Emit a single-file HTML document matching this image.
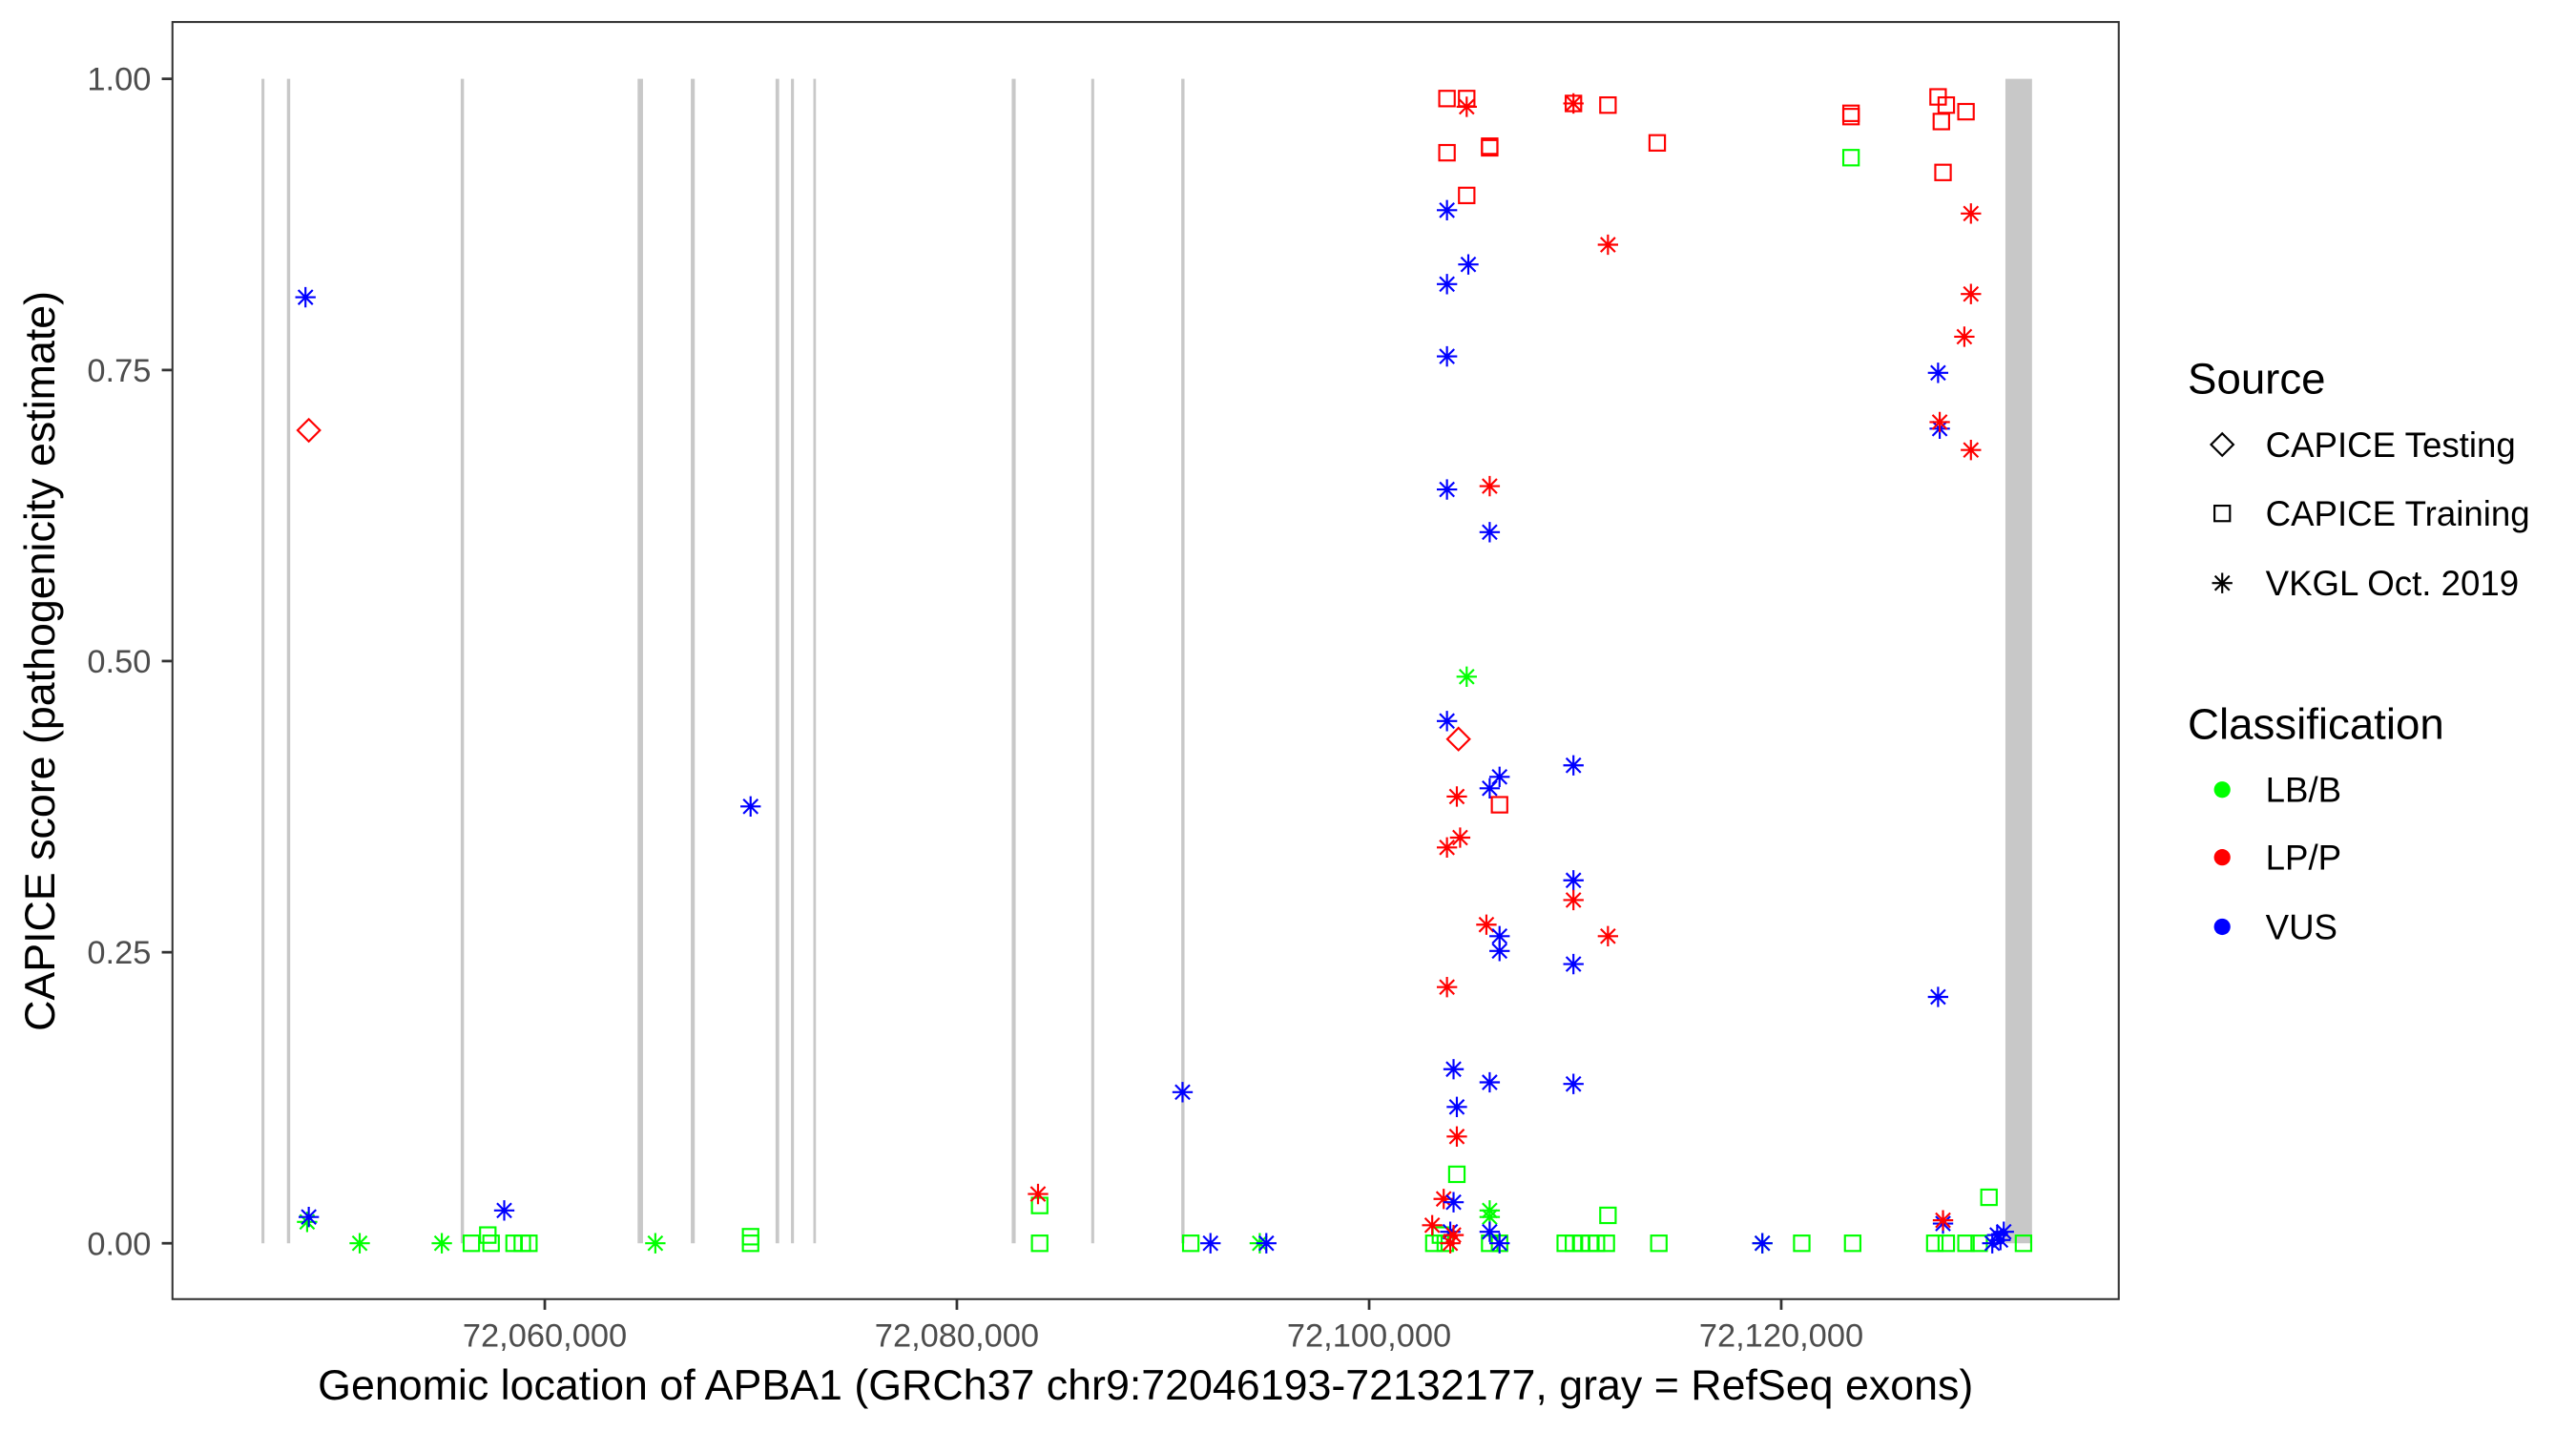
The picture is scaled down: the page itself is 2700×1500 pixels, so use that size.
<!DOCTYPE html>
<html><head><meta charset="utf-8"><style>
html,body{margin:0;padding:0;background:#fff;}
svg{display:block;}
text{font-family:"Liberation Sans",Arial,sans-serif;}
</style></head><body>
<svg id="s" width="2700" height="1500" viewBox="0 0 1568.4 871.3" preserveAspectRatio="none" xmlns="http://www.w3.org/2000/svg">
<rect x="0" y="0" width="1568.4" height="871.3" fill="#fff"/>
<g id="exons" fill="#c8c8c8">
<rect x="159.2" y="48" width="1.8" height="709"/>
<rect x="174.7" y="48" width="2" height="709"/>
<rect x="280.5" y="48" width="2" height="709"/>
<rect x="388.2" y="48" width="3.3" height="709"/>
<rect x="420.6" y="48" width="2.4" height="709"/>
<rect x="472.2" y="48" width="2.2" height="709"/>
<rect x="481.6" y="48" width="1.8" height="709"/>
<rect x="495.2" y="48" width="1.6" height="709"/>
<rect x="616" y="48" width="2.4" height="709"/>
<rect x="664.4" y="48" width="1.8" height="709"/>
<rect x="719.2" y="48" width="2" height="709"/>
<rect x="1221" y="48" width="16.2" height="709"/>
</g>
<g id="pts" fill="none" stroke-width="1.25"></g>
<rect x="105" y="13.4" width="1185" height="777.6" fill="none" stroke="#333" stroke-width="1.2"/>
<g stroke="#333" stroke-width="1.6">
<line x1="98.5" y1="48" x2="105" y2="48"/><line x1="98.5" y1="225.3" x2="105" y2="225.3"/>
<line x1="98.5" y1="402.5" x2="105" y2="402.5"/><line x1="98.5" y1="579.8" x2="105" y2="579.8"/>
<line x1="98.5" y1="757" x2="105" y2="757"/>
<line x1="331.7" y1="791" x2="331.7" y2="797.5"/><line x1="582.6" y1="791" x2="582.6" y2="797.5"/>
<line x1="833.6" y1="791" x2="833.6" y2="797.5"/><line x1="1084.5" y1="791" x2="1084.5" y2="797.5"/>
</g>
<g fill="#4d4d4d" font-size="20" text-anchor="end">
<text x="92" y="55">1.00</text><text x="92" y="232.3">0.75</text><text x="92" y="409.5">0.50</text>
<text x="92" y="586.8">0.25</text><text x="92" y="764">0.00</text>
</g>
<g fill="#4d4d4d" font-size="20" text-anchor="middle">
<text x="331.7" y="820">72,060,000</text><text x="582.6" y="820">72,080,000</text>
<text x="833.6" y="820">72,100,000</text><text x="1084.5" y="820">72,120,000</text>
</g>
<text x="697.5" y="852" font-size="26" text-anchor="middle" fill="#000">Genomic location of APBA1 (GRCh37 chr9:72046193-72132177, gray = RefSeq exons)</text>
<text transform="translate(33,402.5) rotate(-90)" font-size="26" text-anchor="middle" fill="#000">CAPICE score (pathogenicity estimate)</text>
<g fill="#000">
<text x="1332" y="239.7" font-size="26.5">Source</text>
<text x="1379.4" y="278.2" font-size="21.3">CAPICE Testing</text>
<text x="1379.4" y="320.1" font-size="21.3">CAPICE Training</text>
<text x="1379.4" y="362.5" font-size="21.3">VKGL Oct. 2019</text>
<text x="1332" y="449.8" font-size="26.5">Classification</text>
<text x="1379.4" y="488.3" font-size="21.3">LB/B</text>
<text x="1379.4" y="529.5" font-size="21.3">LP/P</text>
<text x="1379.4" y="571.8" font-size="21.3">VUS</text>
</g>
<g id="leg" fill="none" stroke="#000" stroke-width="1.25"></g>
<circle cx="1353" cy="480.8" r="5" fill="#00ff00"/>
<circle cx="1353" cy="522" r="5" fill="#ff0000"/>
<circle cx="1353" cy="564.3" r="5" fill="#0000ff"/>
</svg>
<script>
var NS="http://www.w3.org/2000/svg";
function mk(g,shape,x,y,col){
  var e;
  if(shape==="s"){e=document.createElementNS(NS,"rect");e.setAttribute("x",x-4.7);e.setAttribute("y",y-4.7);e.setAttribute("width",9.4);e.setAttribute("height",9.4);}
  else if(shape==="d"){e=document.createElementNS(NS,"polygon");e.setAttribute("points",(x)+","+(y-6.8)+" "+(x+6.8)+","+y+" "+x+","+(y+6.8)+" "+(x-6.8)+","+y);}
  else {e=document.createElementNS(NS,"path");var r=6.2,q=4.4;
    e.setAttribute("d","M"+(x-r)+" "+y+"H"+(x+r)+"M"+x+" "+(y-r)+"V"+(y+r)+"M"+(x-q)+" "+(y-q)+"L"+(x+q)+" "+(y+q)+"M"+(x-q)+" "+(y+q)+"L"+(x+q)+" "+(y-q));}
  e.setAttribute("stroke",col);g.appendChild(e);
}
var G="#00ff00",R="#ff0000",B="#0000ff";
var P=[
["a",186,181,B],["d",188,262,R],["a",187,744,G],["a",188,741,B],
["a",219,757,G],["a",269,757,G],["s",287,757,G],["s",297,752,G],["s",299,757,G],["s",313,757,G],["s",318,757,G],["s",322,757,G],["a",307,737,B],
["a",399,757,G],["a",457,491,B],["s",457,753,G],["s",457,757,G],
["s",633,734,G],["s",633,757,G],["a",632,727,R],
["a",720,665,B],["s",725,757,G],["a",737,757,B],["a",767,757,G],["a",771,757,B],
["s",881,60,R],["s",893,60,R],["a",893,65,R],["s",881,93,R],["s",893,119,R],["s",907,89,R],["s",907,90,R],
["a",881,128,B],["a",894,161,B],["a",881,173,B],["a",881,217,B],["a",881,298,B],["a",907,296,R],["a",907,324,B],
["a",893,412,G],["a",881,439,B],["d",888,450,R],["a",887,485,R],["a",889,510,R],["a",881,516,R],
["a",907,480,B],["a",913,473,B],["s",913,490,R],["a",905,563,R],["a",881,601,R],["a",913,570,B],["a",913,579,B],
["a",885,651,B],["a",887,674,B],["a",907,659,B],["a",887,692,R],["s",887,715,G],
["s",873,757,G],["s",880,757,G],["s",877,752,G],["a",879,730,R],["a",872,746,R],["a",885,732,B],["a",883,750,B],["a",885,752,R],["a",883,757,R],
["a",907,737,G],["a",907,741,G],["s",907,757,G],["s",913,757,G],["a",907,750,B],["a",913,757,B],
["s",958,63,R],["a",958,63,R],["s",979,64,R],["s",1009,87,R],["a",979,149,R],
["a",958,466,B],["a",958,536,B],["a",958,548,R],["a",958,587,B],["a",979,570,R],["a",958,660,B],
["s",979,740,G],["s",953,757,G],["s",958,757,G],["s",963,757,G],["s",968,757,G],["s",972,757,G],["s",978,757,G],
["s",1010,757,G],["a",1073,757,G],["a",1073,757,B],["s",1097,757,G],["s",1128,757,G],
["s",1127,69,R],["s",1127,71,R],["s",1127,96,G],
["s",1180,59,R],["s",1185,64,R],["s",1197,68,R],["s",1182,74,R],["s",1183,105,R],
["a",1200,130,R],["a",1200,179,R],["a",1196,205,R],["a",1180,227,B],["a",1181,261,B],["a",1181,257,R],["a",1200,274,R],["a",1180,607,B],
["s",1211,729,G],["a",1183,745,B],["a",1183,743,R],
["s",1178,757,G],["s",1185,757,G],["s",1197,757,G],["s",1205,757,G],["s",1232,757,G],
["a",1213,757,B],["a",1218,755,B],["a",1220,750,B],["a",1216,752,B]
];
var g=document.getElementById("pts");
P.forEach(function(p){mk(g,p[0],p[1],p[2],p[3]);});
var L=document.getElementById("leg");
mk(L,"d",1353,270.7,"#000");mk(L,"s",1353,312.6,"#000");mk(L,"a",1353,355,"#000");
</script>
</body></html>
